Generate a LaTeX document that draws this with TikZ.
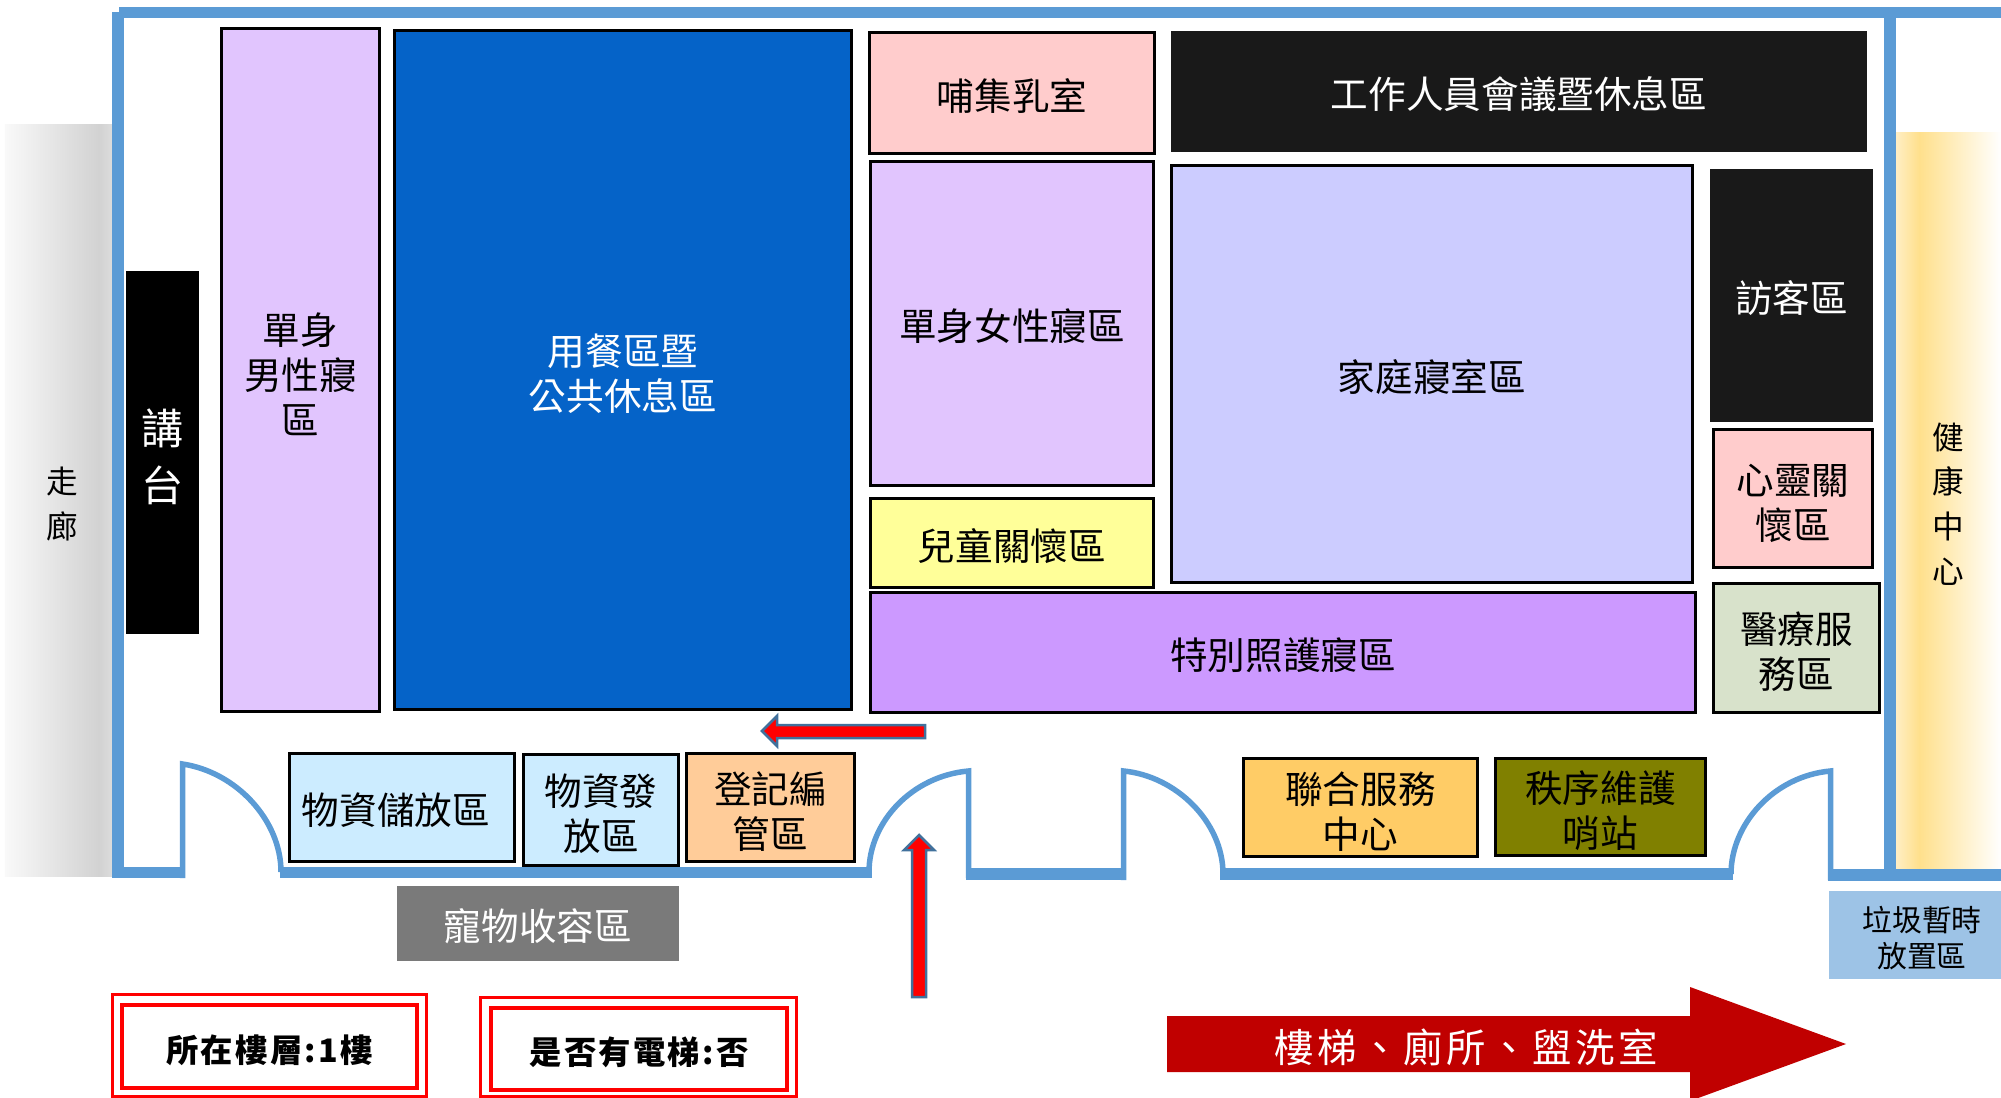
\documentclass[tikz,border=0pt]{standalone}
\usepackage{fontspec}
\usepackage{xcolor}
\usepackage{tikz}
\setmainfont{Noto Sans CJK TC}
\newfontfamily\floorfont[LetterSpace=7]{Noto Sans CJK TC}
\newfontfamily\stairfont[LetterSpace=9]{Noto Sans CJK TC}
\newcommand{\toprow}{\rule{0pt}{1.05em}}
\definecolor{wallblue}{HTML}{5B9BD5}
\definecolor{sleeppurple}{HTML}{E1C5FE}
\definecolor{eatblue}{HTML}{0563C8}
\definecolor{roompink}{HTML}{FFCCCC}
\definecolor{darkbox}{HTML}{191919}
\definecolor{familyblue}{HTML}{CCCCFF}
\definecolor{kidyellow}{HTML}{FFFF99}
\definecolor{carepurple}{HTML}{CC99FF}
\definecolor{goodsblue}{HTML}{CCECFF}
\definecolor{signorange}{HTML}{FFCC99}
\definecolor{servicegold}{HTML}{FFCC66}
\definecolor{guardolive}{HTML}{808000}
\definecolor{medsage}{HTML}{D8E2CB}
\definecolor{petgray}{HTML}{7A7A7A}
\definecolor{trashblue}{HTML}{9DC3E6}
\definecolor{stairred}{HTML}{C00000}
\definecolor{arrowedge}{HTML}{41719C}
\definecolor{hallstart}{HTML}{F9F9F9}
\definecolor{halldark}{HTML}{D2D2D2}
\definecolor{hallend}{HTML}{DCDCDC}
\definecolor{healthedge}{HTML}{FFEEC4}
\definecolor{healthpeak}{HTML}{FFE08C}
\pgfdeclarehorizontalshading{halllight}{100bp}{color(0bp)=(hallstart); color(25bp)=(hallstart); color(69bp)=(halldark); color(75bp)=(hallend); color(100bp)=(hallend)}
\pgfdeclarehorizontalshading{healthlight}{100bp}{color(0bp)=(healthedge); color(25bp)=(healthedge); color(36bp)=(healthpeak); color(75bp)=(white); color(100bp)=(white)}
\tikzset{
  room/.style={draw=black, line width=0.03cm, inner sep=0pt, align=center, font=\fontsize{10.7}{12.8}\selectfont, execute at begin node={\rule{0pt}{1em}}},
  flatroom/.style={room, draw=none},
  sideroom/.style={flatroom, font=\fontsize{9}{12.7}\selectfont},
  wall/.style={draw=wallblue, line width=0.115cm},
  door/.style={draw=wallblue, line width=0.055cm},
  floorbox/.style={draw=red, inner sep=0pt, align=center},
  floortext/.style={floorbox, line width=0.04cm, font=\fontsize{9.2}{10}\selectfont\floorfont\bfseries, execute at begin node={\rule{0pt}{1.08em}}},
  bluearrow/.style={draw=arrowedge, fill=red, line width=0.025cm}
}
\begin{document}
\begin{tikzpicture}[x=0.01cm,y=-0.01cm]
\useasboundingbox (0,0) rectangle (2001,1098);
\node[sideroom, shading=halllight, minimum width=1.07cm, minimum height=7.51cm] (hall) at (58.5,500.5) {\toprow\hspace*{0.07cm}走\\\hspace*{0.07cm}廊};
\node[sideroom, shading=healthlight, minimum width=1.05cm, minimum height=7.35cm] (health) at (1948.5,500.5) {\toprow 健\\康\\中\\心};
\draw[wall] (119,12.5) -- (2001,12.5);
\draw[wall] (118,12.5) -- (118,872.5) -- (184,872.5);
\draw[wall] (1890,12.5) -- (1890,875);
\draw[wall] (280,872.5) -- (872,872.5);
\draw[wall] (966,874) -- (1126,874);
\draw[wall] (1220,874) -- (1733,874);
\draw[wall] (1828,875) -- (2001,875);
\draw[door] (182.5,878) -- (182.5,764) .. controls (236,772) and (281,820) .. (281,872);
\draw[door] (869,872) .. controls (869,822) and (912,776) .. (968.5,771) -- (968.5,878);
\draw[door] (1123.5,880) -- (1123.5,771) .. controls (1176,776) and (1223,822) .. (1223,874);
\draw[door] (1731,874) .. controls (1731,824) and (1774,776) .. (1830.5,771) -- (1830.5,880);
\node[flatroom, fill=black, text=white, font=\fontsize{12}{16.2}\selectfont, minimum width=0.73cm, minimum height=3.63cm] (stage) at (162.5,452.5) {\toprow 講\\台};
\node[room, fill=sleeppurple, minimum width=1.575cm, minimum height=6.825cm] (menroom) at (300.5,370) {\toprow 單身\\男性寢\\區};
\node[room, fill=eatblue, text=white, minimum width=4.565cm, minimum height=6.785cm] (dining) at (623,370) {\toprow 用餐區暨\\公共休息區};
\node[room, fill=roompink, minimum width=2.845cm, minimum height=1.205cm] (nursing) at (1012,93) {哺集乳室};
\node[flatroom, fill=darkbox, text=white, minimum width=6.96cm, minimum height=1.21cm] (staff) at (1519,91.5) {工作人員會議暨休息區};
\node[room, fill=sleeppurple, minimum width=2.825cm, minimum height=3.235cm] (womenroom) at (1012,323.5) {單身女性寢區};
\node[room, fill=kidyellow, minimum width=2.825cm, minimum height=0.885cm] (kids) at (1012,543) {兒童關懷區};
\node[room, fill=familyblue, minimum width=5.205cm, minimum height=4.165cm] (family) at (1432,374) {家庭寢室區};
\node[flatroom, fill=darkbox, text=white, minimum width=1.63cm, minimum height=2.53cm] (visitor) at (1791.5,295.5) {訪客區};
\node[room, fill=roompink, minimum width=1.585cm, minimum height=1.375cm] (spirit) at (1793,498.5) {\toprow 心靈關\\懷區};
\node[room, fill=medsage, minimum width=1.655cm, minimum height=1.285cm] (medical) at (1796.5,648) {\toprow 醫療服\\務區};
\node[room, fill=carepurple, minimum width=8.245cm, minimum height=1.195cm] (specialcare) at (1283,652.5) {特別照護寢區};
\node[room, fill=goodsblue, minimum width=2.245cm, minimum height=1.075cm] (storage) at (402,807.5) {物資儲放區\hspace{0.12cm}};
\node[room, fill=goodsblue, minimum width=1.545cm, minimum height=1.105cm] (supply) at (601,810) {\toprow 物資發\\放區};
\node[room, fill=signorange, minimum width=1.675cm, minimum height=1.075cm] (signin) at (770.5,807.5) {\toprow 登記編\\管區};
\node[room, fill=servicegold, minimum width=2.335cm, minimum height=0.975cm] (service) at (1360.5,807.5) {\toprow 聯合服務\\中心};
\node[room, fill=guardolive, minimum width=2.095cm, minimum height=0.965cm] (guard) at (1600.5,807) {\toprow 秩序維護\\哨站};
\node[flatroom, fill=petgray, text=white, minimum width=2.82cm, minimum height=0.75cm] (pet) at (538,923.5) {寵物收容區};
\node[flatroom, fill=trashblue, font=\fontsize{8.5}{10.2}\selectfont, minimum width=1.72cm, minimum height=0.88cm] (trash) at (1915,935) {\toprow\hspace*{0.14cm}垃圾暫時\\\hspace*{0.14cm}放置區};
\draw[bluearrow] (762,731) -- (777,716) -- (777,725) -- (925,725) -- (925,738) -- (777,738) -- (777,746) -- cycle;
\draw[bluearrow] (919,835) -- (934,850) -- (926,850) -- (926,997) -- (912,997) -- (912,850) -- (904,850) -- cycle;
\node[floorbox, line width=0.03cm, minimum width=3.135cm, minimum height=1.015cm] (floorout) at (269.5,1045.5) {};
\node[floortext, minimum width=2.95cm, minimum height=0.83cm] (floorin) at (269.5,1046.5) {所在樓層:1樓};
\node[floorbox, line width=0.03cm, minimum width=3.155cm, minimum height=0.985cm] (liftout) at (638.5,1047) {};
\node[floortext, minimum width=2.96cm, minimum height=0.82cm] (liftin) at (639,1049) {是否有電梯:否};
\fill[stairred] (1167,1016) -- (1690,1016) -- (1690,987) -- (1846,1044) -- (1690,1101) -- (1690,1072) -- (1167,1072) -- cycle;
\node[text=white, inner sep=0pt, font=\fontsize{11.2}{12}\selectfont\stairfont] (stairs) at (1466,1047) {樓梯、廁所、盥洗室};
\end{tikzpicture}
\end{document}
